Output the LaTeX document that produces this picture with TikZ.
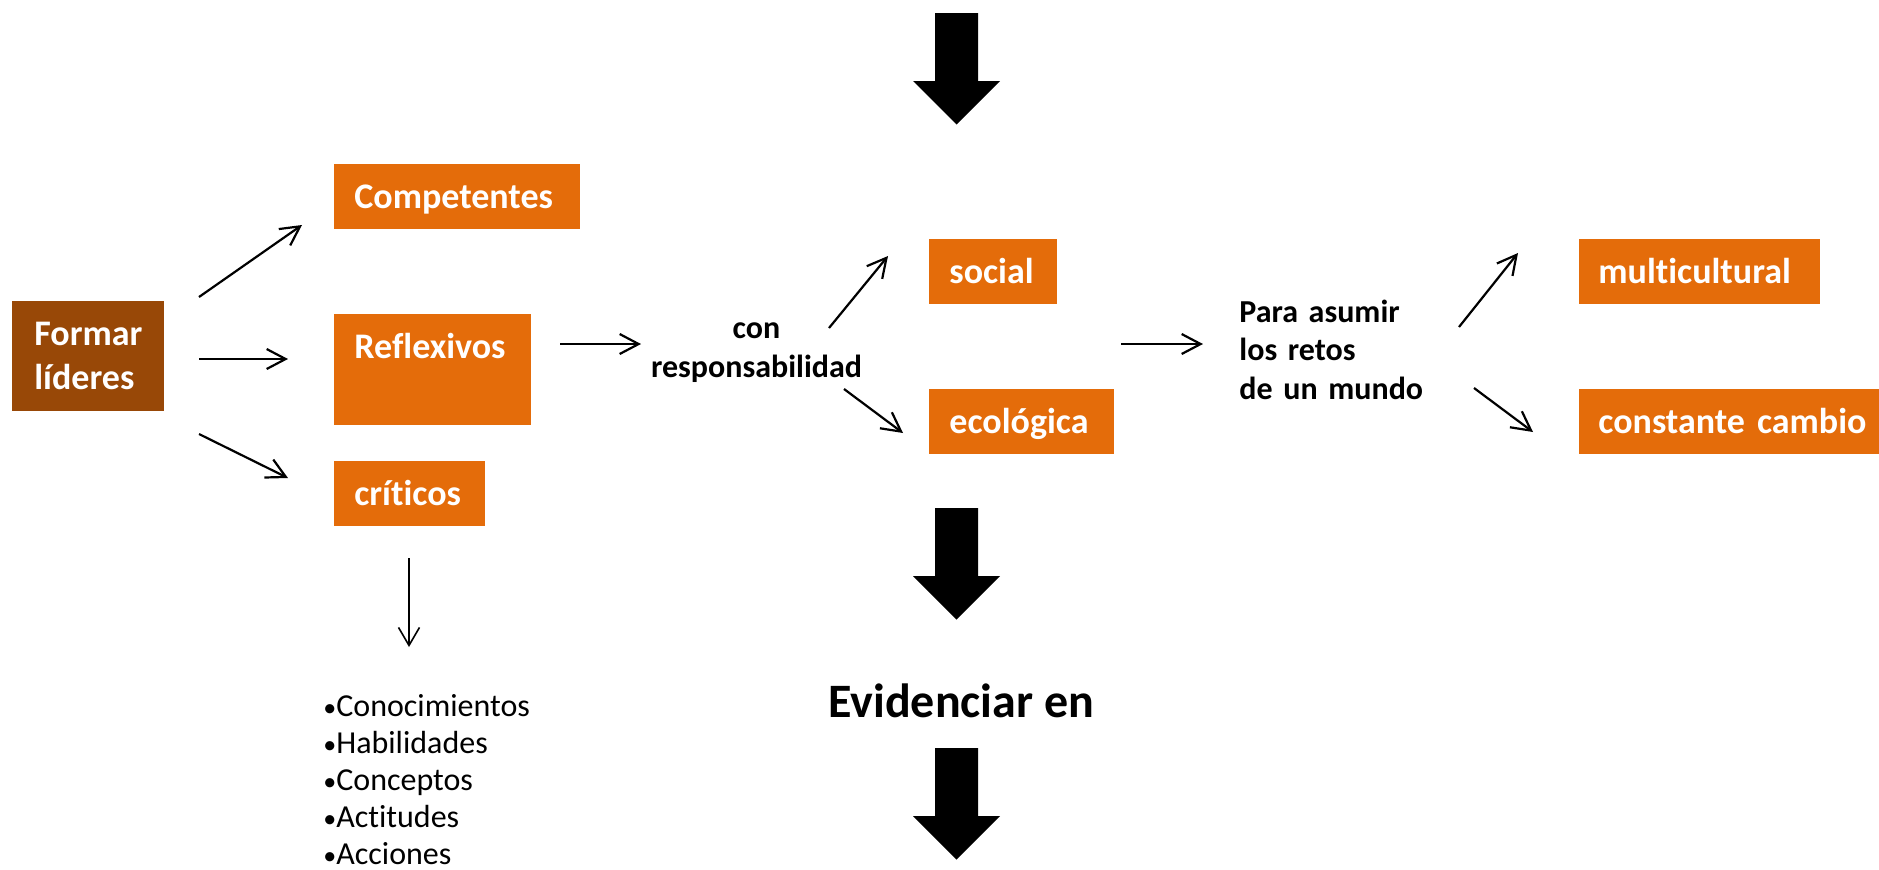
\documentclass[tikz,border=0pt]{standalone}
\usepackage{fontspec}
\setmainfont{Carlito}[Ligatures=NoCommon]
\usetikzlibrary{arrows.meta}
\definecolor{boxorange}{HTML}{E46C0A}
\definecolor{boxbrown}{HTML}{984807}
\newcommand{\smallbul}{{\fontsize{13pt}{13pt}\selectfont•}}
\tikzset{
  obox/.style={fill=boxorange, text=white, font=\fontsize{18pt}{22pt}\selectfont\bfseries,
    inner xsep=10pt, inner ysep=0pt, text height=22pt, text depth=10.5pt, align=left, anchor=north west},
  thinarrow/.style={line width=1.1pt, -{Straight Barb[length=9.5pt,width=10pt]}},
  vthinarrow/.style={line width=0.8pt, -{Straight Barb[length=9pt,width=10.5pt]}},
  bigarrow/.style={fill=black},
  lbl/.style={inner sep=0pt, font=\fontsize{16pt}{19.5pt}\selectfont\bfseries},
}
\begin{document}
\begin{tikzpicture}[x={(0.5pt,0)}, y={(0,-0.5pt)}]
\useasboundingbox (0,0) rectangle (1879,869);

% boxes
\node[obox, fill=boxbrown, align=center, minimum width=76pt, text depth=33pt] (formar) at (12,301)
  {\vtop{\baselineskip=22pt\hbox{Formar}\hbox{líderes}}};
\node[obox, text width=103pt] (comp) at (334,164) {Competentes};
\node[obox, text width=78.5pt, text depth=33.5pt] (refl) at (334,314) {Reflexivos};
\node[obox, text width=55.5pt] (crit) at (334,461) {críticos};
\node[obox, text width=44pt] (social) at (929,239) {social};
\node[obox, text width=72.5pt] (ecol) at (929,389) {ecológica};
\node[obox, inner xsep=9.5pt, text width=101.5pt] (multi) at (1579,239) {multicultural};
\node[obox, inner xsep=9.5pt, text width=145pt] (const) at (1579,389) {constante cambio};

% texts
\node[lbl, text width=110pt, align=center, anchor=base] (con) at (756.5,338) {con\\responsabilidad};
\node[lbl, font=\fontsize{16pt}{19.25pt}\selectfont\bfseries, text width=120pt, align=left, anchor=base west] (para) at (1239,322)
  {Para asumir\\los retos\\de un mundo};
\node[inner sep=0pt, font=\fontsize{16pt}{18.6pt}\selectfont, text width=120pt, align=left, anchor=base west] (list) at (323,716)
  {\smallbul Conocimientos\\\smallbul Habilidades\\\smallbul Conceptos\\\smallbul Actitudes\\\smallbul Acciones};
\node[inner sep=0pt, font=\fontsize{24pt}{29pt}\selectfont\bfseries, anchor=base west] (evid) at (828,717) {Evidenciar en};

% arrow end points
\coordinate (a1s) at (199,297);  \coordinate (a1e) at (302,225);
\coordinate (a2s) at (199,359);  \coordinate (a2e) at (288,359);
\coordinate (a3s) at (199,434);  \coordinate (a3e) at (288,478);
\coordinate (a4s) at (560,344);  \coordinate (a4e) at (641,344);
\coordinate (a5s) at (829,328);  \coordinate (a5e) at (888,256);
\coordinate (a6s) at (844,389);  \coordinate (a6e) at (903,433);
\coordinate (a7s) at (1121,344); \coordinate (a7e) at (1203,344);
\coordinate (a8s) at (1459,327); \coordinate (a8e) at (1518,253);
\coordinate (a9s) at (1474,388); \coordinate (a9e) at (1533,432);
\coordinate (a10s) at (409,558); \coordinate (a10e) at (409,647);

\draw[thinarrow] (a1s) -- (a1e);
\draw[thinarrow] (a2s) -- (a2e);
\draw[thinarrow] (a3s) -- (a3e);
\draw[thinarrow] (a4s) -- (a4e);
\draw[thinarrow] (a5s) -- (a5e);
\draw[thinarrow] (a6s) -- (a6e);
\draw[thinarrow] (a7s) -- (a7e);
\draw[thinarrow] (a8s) -- (a8e);
\draw[thinarrow] (a9s) -- (a9e);
\draw[vthinarrow] (a10s) -- (a10e);

% big block arrows
\foreach \t in {13,508,748}{
  \fill[bigarrow] (935,\t) -- (978,\t) -- (978,\t+68) -- (1000,\t+68) -- (956.5,\t+111.5)
    -- (913,\t+68) -- (935,\t+68) -- cycle;
}
\end{tikzpicture}
\end{document}
